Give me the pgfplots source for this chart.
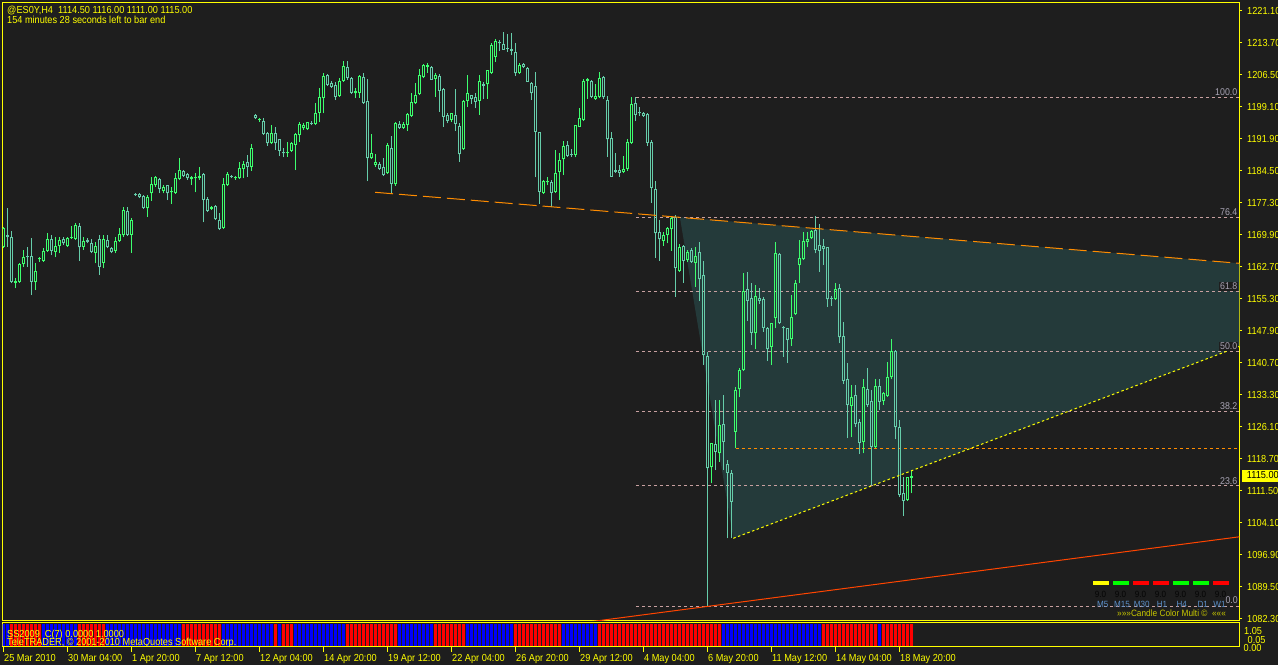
\documentclass[border=0pt]{standalone}
\usepackage{pgfplots}
\pgfplotsset{compat=1.18}
\usepackage{pgfplotstable}
\usepackage{fontspec}
\setmainfont{Liberation Sans}[FakeStretch=0.9]
\definecolor{bg}{HTML}{1E1E1E}
\definecolor{bull}{HTML}{3DFF6E}
\definecolor{bear}{HTML}{66CDAA}
\definecolor{tri}{HTML}{243A3A}
\definecolor{fib}{HTML}{C8A0A0}
\definecolor{fibtxt}{HTML}{A8A4B4}
\definecolor{mtorange}{HTML}{FF8C00}
\definecolor{mtred}{HTML}{FF4500}
\definecolor{mty}{HTML}{FFFF00}
\definecolor{indred}{HTML}{FF0000}
\definecolor{indblue}{HTML}{0000FF}
\definecolor{tfblue}{HTML}{5B8FC8}
\definecolor{ccm}{HTML}{C8C800}
\definecolor{lime}{HTML}{00FF00}
\newcommand\fs[1]{\fontsize{#1}{#1}\selectfont}

\pgfplotstableread{
i o h l c s
0 1167.30 1171.86 1166.92 1171.63 0
1 1169.96 1176.05 1167.30 1169.58 0
2 1169.43 1170.95 1158.93 1159.31 1
3 1159.16 1160.07 1157.78 1159.31 1
4 1159.31 1163.49 1159.08 1163.34 1
5 1163.34 1166.54 1162.73 1164.86 1
6 1165.17 1167.30 1162.73 1164.86 1
7 1165.17 1169.20 1156.26 1159.31 1
8 1159.16 1163.49 1157.40 1161.74 1
9 1164.40 1165.01 1163.87 1164.63 1
10 1164.10 1166.92 1163.87 1166.31 0
11 1166.38 1170.34 1166.15 1169.05 0
12 1168.97 1169.96 1165.39 1166.38 0
13 1166.15 1169.58 1164.86 1167.45 0
14 1167.53 1169.43 1165.77 1168.82 0
15 1169.05 1169.43 1167.68 1168.06 0
16 1167.45 1169.58 1167.30 1169.35 0
17 1169.28 1172.01 1169.20 1169.58 0
18 1169.05 1172.78 1168.82 1172.24 0
19 1172.01 1172.62 1164.10 1167.15 1
20 1167.30 1169.43 1166.54 1168.59 1
21 1168.82 1169.20 1168.06 1168.36 1
22 1168.21 1168.97 1165.77 1166.15 1
23 1165.93 1168.44 1163.49 1167.45 1
24 1168.97 1169.96 1160.83 1162.73 1
25 1163.64 1169.96 1162.35 1168.97 1
26 1168.82 1169.96 1166.92 1167.15 0
27 1166.92 1167.30 1165.77 1166.15 0
28 1166.38 1169.43 1165.77 1168.59 0
29 1168.67 1171.48 1168.44 1170.11 0
30 1169.88 1176.43 1169.58 1175.67 0
31 1175.44 1176.43 1169.73 1170.04 0
32 1170.04 1173.76 1165.93 1173.38 0
33 1179.32 1179.47 1178.94 1179.09 0
34 1179.24 1179.47 1178.33 1178.56 0
35 1178.79 1179.09 1176.05 1176.20 0
36 1176.05 1179.09 1174.15 1178.64 0
37 1179.47 1183.28 1177.80 1181.53 0
38 1181.30 1183.43 1181.00 1183.12 0
39 1182.67 1182.90 1179.47 1180.39 0
40 1180.08 1181.37 1179.47 1180.84 0
41 1181.30 1181.37 1177.95 1179.47 0
42 1179.70 1181.00 1177.04 1179.93 0
43 1179.62 1184.19 1179.47 1182.90 0
44 1182.75 1187.46 1182.52 1184.72 0
45 1184.57 1184.80 1183.28 1183.43 1
46 1183.89 1184.19 1182.52 1182.90 1
47 1182.67 1183.43 1181.37 1183.12 1
48 1182.90 1184.04 1179.70 1183.28 1
49 1182.90 1185.56 1182.52 1183.43 1
50 1183.89 1184.04 1172.85 1177.95 1
51 1178.18 1178.71 1175.29 1175.52 1
52 1175.90 1176.58 1175.67 1176.28 1
53 1176.51 1176.81 1173.38 1173.53 1
54 1173.31 1174.91 1171.10 1171.33 1
55 1171.56 1182.90 1171.41 1181.53 0
56 1181.30 1184.42 1181.15 1183.89 0
57 1183.43 1183.66 1182.90 1183.20 0
58 1182.97 1183.43 1182.52 1183.20 0
59 1182.90 1186.70 1182.75 1185.18 0
60 1185.03 1186.93 1182.90 1186.17 0
61 1186.55 1188.22 1183.28 1185.56 0
62 1185.41 1190.66 1184.65 1189.90 0
63 1197.36 1197.51 1196.44 1196.60 0
64 1196.29 1196.75 1195.84 1196.52 0
65 1195.91 1196.60 1192.79 1193.02 0
66 1193.32 1193.55 1190.35 1190.89 0
67 1190.89 1195.07 1190.73 1193.17 0
68 1193.17 1194.69 1189.37 1190.89 1
69 1191.80 1191.95 1187.99 1189.21 0
70 1188.91 1189.75 1187.69 1188.60 1
71 1188.76 1191.27 1187.84 1188.98 1
72 1189.21 1191.12 1188.98 1190.89 1
73 1190.51 1193.32 1184.80 1192.94 0
74 1192.79 1195.68 1191.27 1195.23 0
75 1194.31 1195.61 1193.93 1195.07 0
76 1194.08 1195.84 1193.93 1195.68 0
77 1195.53 1196.06 1195.00 1195.30 0
78 1195.30 1200.02 1195.07 1197.74 0
79 1197.89 1203.44 1195.84 1201.39 0
80 1201.16 1206.87 1197.74 1206.26 0
81 1206.49 1206.72 1203.98 1204.20 0
82 1204.58 1205.12 1203.67 1203.82 0
83 1204.20 1204.97 1200.78 1201.54 0
84 1201.69 1205.73 1201.54 1205.12 0
85 1205.19 1209.68 1204.97 1208.54 0
86 1208.24 1209.68 1205.35 1205.73 1
87 1205.73 1206.11 1202.30 1202.45 1
88 1202.30 1203.44 1201.16 1202.83 1
89 1202.45 1206.49 1201.31 1206.26 1
90 1205.96 1206.87 1200.02 1200.17 1
91 1200.55 1205.58 1182.29 1187.46 1
92 1187.46 1193.02 1187.23 1188.60 1
93 1185.94 1188.45 1185.56 1186.55 1
94 1186.17 1186.70 1184.80 1185.03 1
95 1185.41 1187.46 1183.43 1183.66 1
96 1184.04 1190.89 1183.89 1190.51 1
97 1189.75 1192.56 1179.47 1181.60 1
98 1181.53 1195.84 1181.22 1195.45 1
99 1195.23 1196.06 1194.31 1194.46 0
100 1194.46 1195.84 1194.31 1195.23 0
101 1195.07 1197.74 1193.78 1197.58 0
102 1197.13 1202.45 1196.98 1200.25 0
103 1200.02 1204.58 1199.87 1201.92 0
104 1202.15 1207.78 1201.92 1206.49 0
105 1205.96 1209.00 1205.73 1208.69 0
106 1208.39 1209.15 1207.02 1208.77 0
107 1208.39 1208.54 1205.35 1205.35 0
108 1205.58 1206.87 1201.54 1206.49 1
109 1206.26 1206.72 1198.12 1202.91 1
110 1203.29 1203.44 1194.69 1196.98 1
111 1197.36 1197.74 1195.45 1196.06 1
112 1196.21 1197.89 1195.84 1197.74 1
113 1197.36 1203.21 1193.78 1195.30 1
114 1194.84 1195.45 1186.70 1188.38 1
115 1189.52 1200.78 1189.37 1200.55 1
116 1200.63 1206.49 1199.26 1202.30 0
117 1201.85 1202.00 1199.87 1201.01 0
118 1201.54 1202.30 1198.88 1200.40 0
119 1200.63 1206.49 1197.36 1205.12 0
120 1204.36 1204.97 1200.93 1203.98 0
121 1204.36 1207.63 1201.01 1207.63 0
122 1207.02 1213.72 1206.87 1213.34 0
123 1210.67 1214.63 1209.53 1214.33 0
124 1214.10 1214.48 1212.04 1213.72 0
125 1213.56 1216.23 1212.20 1212.20 0
126 1212.65 1215.85 1211.81 1212.50 0
127 1212.35 1216.00 1211.05 1212.04 0
128 1211.81 1213.72 1206.26 1206.87 1
129 1207.02 1209.30 1206.87 1208.69 1
130 1209.00 1209.30 1208.01 1208.24 1
131 1208.01 1208.24 1204.97 1204.97 1
132 1204.58 1204.97 1200.78 1202.30 1
133 1203.98 1207.25 1183.12 1193.55 1
134 1193.40 1193.55 1177.04 1179.85 1
135 1179.62 1182.52 1179.47 1182.36 1
136 1181.98 1183.28 1181.37 1182.29 1
137 1182.06 1182.52 1176.43 1179.62 1
138 1179.85 1189.37 1179.62 1184.04 1
139 1184.42 1188.60 1177.95 1187.08 1
140 1187.23 1191.42 1183.66 1190.28 0
141 1190.51 1191.50 1187.84 1187.99 0
142 1188.53 1189.59 1187.84 1188.22 0
143 1188.30 1195.07 1187.69 1195.00 0
144 1194.69 1198.88 1194.69 1196.67 0
145 1196.21 1205.50 1196.06 1205.12 0
146 1205.19 1205.73 1201.01 1205.50 0
147 1205.12 1205.35 1201.16 1201.54 0
148 1201.08 1204.36 1201.01 1201.62 0
149 1201.39 1207.25 1201.16 1205.73 1
150 1205.96 1206.26 1201.08 1201.39 1
151 1200.78 1201.69 1187.84 1191.80 1
152 1192.03 1193.40 1183.28 1183.28 1
153 1184.72 1188.60 1184.19 1184.42 1
154 1184.80 1185.94 1183.28 1184.19 1
155 1184.42 1187.99 1184.04 1184.95 1
156 1185.03 1191.80 1184.65 1191.27 1
157 1191.04 1201.39 1190.89 1199.87 1
158 1200.02 1201.39 1196.06 1197.36 1
159 1198.04 1199.11 1197.13 1197.74 1
160 1197.74 1198.12 1196.98 1197.13 1
161 1197.51 1197.74 1190.28 1191.04 1
162 1191.27 1191.65 1177.34 1180.77 1
163 1180.39 1182.29 1164.79 1170.34 1
164 1170.72 1173.38 1164.10 1168.97 1
165 1168.67 1170.72 1167.53 1169.96 1
166 1169.96 1171.86 1168.06 1171.48 1
167 1171.25 1174.30 1166.38 1173.76 1
168 1174.15 1174.53 1155.88 1162.35 1
169 1161.82 1167.91 1161.59 1167.15 1
170 1167.45 1167.68 1159.08 1164.10 1
171 1164.25 1166.54 1163.87 1166.15 1
172 1166.54 1166.92 1163.64 1163.87 1
173 1163.64 1167.30 1158.16 1165.17 1
174 1166.00 1168.29 1154.97 1159.84 1
175 1160.83 1164.02 1140.28 1142.56 1
176 1142.34 1143.32 1085.25 1116.69 1
177 1116.92 1122.40 1113.26 1122.40 1
178 1122.25 1132.29 1116.31 1120.50 1
179 1120.12 1132.29 1118.21 1126.58 1
180 1126.81 1133.43 1116.31 1122.78 0
181 1117.68 1118.59 1100.71 1115.71 0
182 1115.55 1116.31 1100.71 1109.08 0
183 1125.06 1135.18 1121.26 1134.58 0
184 1134.73 1139.52 1132.90 1139.14 0
185 1139.14 1161.36 1138.99 1157.17 0
186 1157.55 1161.59 1150.40 1154.97 0
187 1155.50 1158.93 1144.85 1147.66 0
188 1147.51 1158.55 1143.86 1156.03 0
189 1155.65 1157.78 1154.21 1154.97 0
190 1155.35 1155.88 1147.89 1148.80 0
191 1148.65 1149.03 1141.27 1143.86 0
192 1144.47 1149.95 1140.28 1149.79 0
193 1150.94 1168.44 1148.65 1165.77 0
194 1165.62 1165.93 1149.64 1149.79 0
195 1149.03 1149.18 1142.18 1148.65 0
196 1148.65 1148.65 1140.81 1145.99 0
197 1146.14 1156.26 1144.70 1151.32 0
198 1151.85 1159.69 1151.70 1158.93 0
199 1163.11 1168.82 1159.08 1164.63 0
200 1164.40 1170.72 1164.25 1168.67 0
201 1168.44 1170.72 1167.15 1168.97 0
202 1169.20 1171.10 1169.05 1170.87 0
203 1171.10 1174.30 1165.77 1166.54 0
204 1167.60 1172.47 1161.59 1166.38 0
205 1167.45 1168.97 1163.11 1166.76 1
206 1167.15 1167.30 1153.60 1155.27 1
207 1155.65 1156.03 1153.75 1155.35 1
208 1155.27 1158.93 1155.12 1157.55 1
209 1157.78 1158.77 1145.23 1146.60 1
210 1146.98 1150.02 1135.94 1136.70 1
211 1137.01 1140.81 1123.54 1131.15 1
212 1130.92 1135.71 1123.77 1132.90 1
213 1133.43 1135.71 1126.20 1126.81 1
214 1127.19 1127.88 1119.96 1122.55 1
215 1122.78 1137.01 1120.12 1135.18 1
216 1134.73 1139.52 1130.77 1131.15 1
217 1132.14 1134.58 1112.89 1121.48 1
218 1121.64 1137.01 1121.48 1135.49 1
219 1135.49 1137.01 1130.01 1131.91 0
220 1132.14 1134.19 1131.15 1133.81 1
221 1133.20 1141.04 1133.05 1137.62 1
222 1137.47 1146.14 1137.01 1143.55 1
223 1143.48 1143.71 1123.31 1126.05 1
224 1126.20 1127.73 1110.07 1110.60 1
225 1110.98 1114.79 1105.81 1109.31 1
226 1109.46 1114.79 1109.31 1114.64 1
227 1114.50 1116.00 1111.00 1115.00 1
}\ohlc

\pgfplotsset{
  vbar/.style={draw=none, mark=none, forget plot,
    error bars/.cd, y dir=plus, y explicit, error mark=none,
    error bar style={draw=#1, line width=1pt}},
  cbar/.style={draw=none, mark=none, forget plot,
    error bars/.cd, y dir=plus, y explicit, error mark=none,
    error bar style={draw=#1, line width=3pt}},
  up/.style={restrict expr to domain={\thisrow{c}-\thisrow{o}}{0:10000}},
  dn/.style={restrict expr to domain={\thisrow{c}-\thisrow{o}}{-10000:-0.001}},
  fibline/.style={fib, line width=1pt, dash pattern=on 3pt off 3pt, forget plot},
}

\begin{document}
\begin{tikzpicture}[x=1pt,y=1pt]
\useasboundingbox (0,0) rectangle (1278,665);
\fill[bg] (0,0) rectangle (1278,665);

% ---------------- main price window ----------------
\begin{axis}[
  at={(2.5pt,44.5pt)}, anchor=south west, scale only axis,
  width=1237pt, height=618pt,
  xmin=-0.25, xmax=309, ymin=1081.96, ymax=1223.04,
  axis line style={mty, line width=1pt},
  xtick=\empty,
  ytick={1221.10,1213.795,1206.49,1199.185,1191.88,1184.575,1177.27,1169.965,1162.66,1155.355,1148.05,1140.745,1133.44,1126.135,1118.83,1111.525,1104.22,1096.915,1089.61,1082.305},
  yticklabels={1221.10,1213.70,1206.50,1199.10,1191.90,1184.50,1177.30,1169.90,1162.70,1155.30,1147.90,1140.70,1133.30,1126.10,1118.70,1111.50,1104.10,1096.90,1089.50,1082.30},
  ytick pos=right, yticklabel pos=right,
  tick align=outside, major tick length=3pt,
  tick style={mty, line width=1pt},
  yticklabel style={text=mty, font=\fs{10.2}, anchor=west, inner sep=0pt, xshift=4.5pt},
]
% triangle fill
\addplot[fill=tri, draw=none, forget plot] coordinates {(169.1,1174.03) (309.5,1163.46) (309.5,1144.70) (182.45,1100.72)} -- cycle;
% fibonacci levels
\addplot[fibline] coordinates {(158.1,1201.40) (309,1201.40)};
\addplot[fibline] coordinates {(158.1,1173.99) (309,1173.99)};
\addplot[fibline] coordinates {(158.1,1157.04) (309,1157.04)};
\addplot[fibline] coordinates {(158.1,1143.34) (309,1143.34)};
\addplot[fibline] coordinates {(158.1,1129.63) (309,1129.63)};
\addplot[fibline] coordinates {(158.1,1112.68) (309,1112.68)};
\addplot[fibline] coordinates {(158.1,1085.27) (309,1085.27)};
\addplot[mtorange, line width=1pt, dash pattern=on 3pt off 3pt, forget plot] coordinates {(183.1,1121.27) (309,1121.27)};

% bull candles: wicks, body edges, body caps
\addplot[up, vbar=bull] table[x=i, y=c, y error expr={\thisrow{h}-\thisrow{c}}] {\ohlc};
\addplot[up, vbar=bull] table[x=i, y=l, y error expr={\thisrow{o}-\thisrow{l}}] {\ohlc};
\addplot[up, vbar=bull] table[x expr={\thisrow{i}-0.25}, y=o, y error expr={\thisrow{c}-\thisrow{o}}] {\ohlc};
\addplot[up, vbar=bull] table[x expr={\thisrow{i}+0.25}, y=o, y error expr={\thisrow{c}-\thisrow{o}}] {\ohlc};
\addplot[up, cbar=bull] table[x=i, y expr={max(\thisrow{c}-0.2283,\thisrow{o})}, y error expr=0.2283] {\ohlc};
\addplot[up, cbar=bull] table[x=i, y=o, y error expr=0.2283] {\ohlc};
% bear candles
\addplot[dn, vbar=bear] table[x=i, y=o, y error expr={\thisrow{h}-\thisrow{o}}] {\ohlc};
\addplot[dn, vbar=bear] table[x=i, y=l, y error expr={\thisrow{c}-\thisrow{l}}] {\ohlc};
\addplot[dn, vbar=bear] table[x expr={\thisrow{i}-0.25}, y=c, y error expr={\thisrow{o}-\thisrow{c}}] {\ohlc};
\addplot[dn, vbar=bear] table[x expr={\thisrow{i}+0.25}, y=c, y error expr={\thisrow{o}-\thisrow{c}}] {\ohlc};
\addplot[dn, cbar=bear] table[x=i, y expr={max(\thisrow{o}-0.2283,\thisrow{c})}, y error expr=0.2283] {\ohlc};
\addplot[dn, cbar=bear] table[x=i, y=c, y error expr=0.2283] {\ohlc};

% trend lines
\addplot[mtred, line width=1pt, forget plot] coordinates {(145,1081.47) (309.5,1101.13)};
\addplot[mty, line width=1pt, dash pattern=on 2.5pt off 2.5pt, forget plot] coordinates {(182.45,1100.72) (309.5,1144.70)};
\addplot[mtorange, line width=1pt, dash pattern=on 18pt off 6pt, forget plot] coordinates {(92.9,1179.71) (309.5,1163.46)};
\end{axis}

% ---------------- indicator window ----------------
\begin{axis}[
  at={(2.5pt,18.5pt)}, anchor=south west, scale only axis,
  width=1237pt, height=24pt,
  xmin=-0.25, xmax=309, ymin=-0.04545, ymax=1.04545,
  axis line style={mty, line width=1pt},
  ytick=\empty,
  xtick={0,16,32,48,64,80,96,112,128,144,160,176,192,208,224},
  xticklabels={25 Mar 2010,30 Mar 04:00,1 Apr 20:00,7 Apr 12:00,12 Apr 04:00,14 Apr 20:00,19 Apr 12:00,22 Apr 04:00,26 Apr 20:00,29 Apr 12:00,4 May 04:00,6 May 20:00,11 May 12:00,14 May 04:00,18 May 20:00},
  xtick pos=lower, xticklabel pos=lower,
  tick align=outside, major tick length=5pt,
  tick style={mty, line width=1pt},
  xticklabel style={text=mty, font=\fs{10.2}, anchor=north west, inner sep=0pt, xshift=0.5pt, yshift=-3pt},
]
\addplot[ycomb, draw=indred, line width=3pt, mark=none, forget plot, restrict expr to domain={\thisrow{s}}{0.5:1.5}] table[x=i, y expr=1] {\ohlc};
\addplot[ycomb, draw=indblue, line width=3pt, mark=none, forget plot, restrict expr to domain={\thisrow{s}}{-0.5:0.5}] table[x=i, y expr=1] {\ohlc};
\end{axis}

% ---------------- texts ----------------
\node[anchor=base west, inner sep=0pt, text=mty, font=\fs{10.2}] at (7,651) {@ES0Y,H4\ \ 1114.50 1116.00 1111.00 1115.00};
\node[anchor=base west, inner sep=0pt, text=mty, font=\fs{10.2}] at (7,641) {154 minutes 28 seconds left to bar end};

\node[anchor=base west, inner sep=0pt, text=mty, font=\fs{10.2}] at (7,28) {SS2009\ \ C(7) 0.0000 1.0000};
\node[anchor=base west, inner sep=0pt, text=mty, font=\fs{10.2}] at (7,20) {TeleTRADER, © 2001-2010 MetaQuotes Software Corp.};

% current price box
\fill[mty] (1242,183.5) rectangle (1278,195.5);
\node[anchor=base west, inner sep=0pt, text=black, font=\fs{10.2}] at (1246.7,186) {1115.00};

% indicator scale
\node[anchor=west, inner sep=0pt, text=mty, font=\fs{10.2}] at (1244,34) {1.05};
\node[anchor=west, inner sep=0pt, text=mty, font=\fs{10.2}] at (1247.5,25.5) {0.05};
\node[anchor=west, inner sep=0pt, text=mty, font=\fs{10.2}] at (1243.5,17) {0.00};

% candle colour multi widget
\fill[mty]  (1092.5,80) rectangle (1108.5,84);
\fill[lime] (1112.5,80) rectangle (1128.5,84);
\fill[indred] (1132.5,80) rectangle (1148.5,84);
\fill[indred] (1152.5,80) rectangle (1168.5,84);
\fill[lime] (1172.5,80) rectangle (1188.5,84);
\fill[lime] (1192.5,80) rectangle (1208.5,84);
\fill[indred] (1212.5,80) rectangle (1228.5,84);
\foreach \k in {0,...,6} {
  \node[anchor=base, inner sep=0pt, text=black!85!bg, font=\fs{9}] at (1100.5+20*\k,68) {9.0};
}
\node[anchor=base, inner sep=0pt, text=tfblue, font=\fs{9}] at (1102.7,58) {M5};
\node[anchor=base, inner sep=0pt, text=tfblue, font=\fs{9}] at (1122,58) {M15};
\node[anchor=base, inner sep=0pt, text=tfblue, font=\fs{9}] at (1141.7,58) {M30};
\node[anchor=base, inner sep=0pt, text=tfblue, font=\fs{9}] at (1162,58) {H1};
\node[anchor=base, inner sep=0pt, text=tfblue, font=\fs{9}] at (1181.7,58) {H4};
\node[anchor=base, inner sep=0pt, text=tfblue, font=\fs{9}] at (1202.7,58) {D1};
\node[anchor=base, inner sep=0pt, text=tfblue, font=\fs{9}] at (1219.5,58) {W1};
\node[anchor=base west, inner sep=0pt, text=ccm, font=\fs{9.2}] at (1117,49) {»»»Candle Color Multi ©\ \ «««};

% fibonacci level labels
\foreach \y/\t in {569.5/100.0, 449.5/76.4, 375.3/61.8, 315.3/50.0, 255.2/38.2, 181.0/23.6} {
  \node[anchor=base east, inner sep=1pt, fill=bg, text=fibtxt, font=\fs{9.8}] at (1238.5,\y) {\t};
}
\node[anchor=base east, inner sep=0.5pt, fill=bg, text=fibtxt, font=\fs{9.8}] at (1238.5,61.4) {0.0};
\end{tikzpicture}
\end{document}
